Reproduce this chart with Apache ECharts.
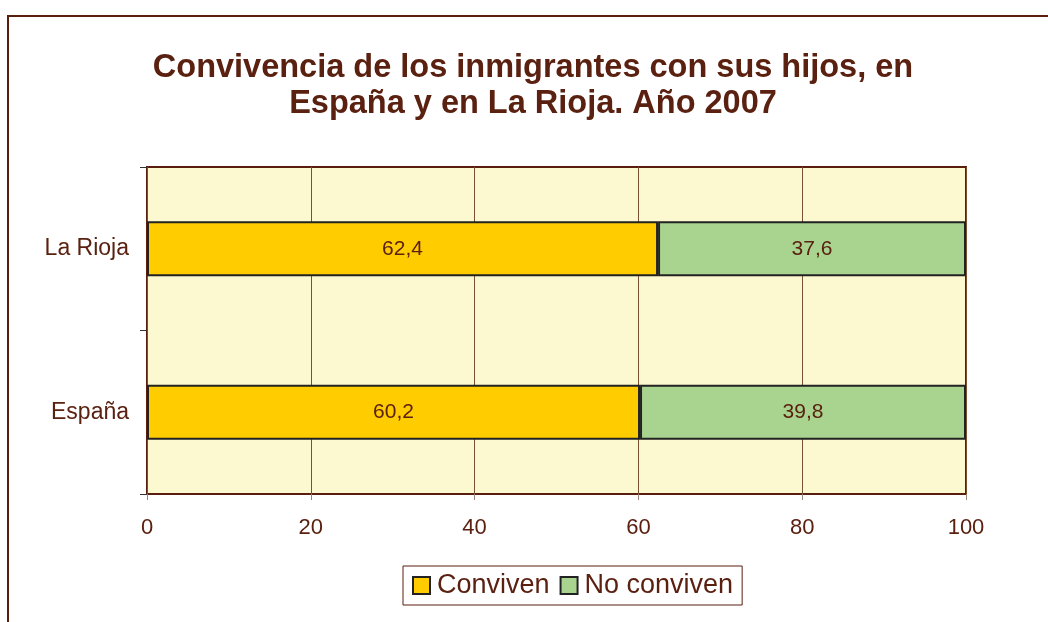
<!DOCTYPE html>
<html>
<head>
<meta charset="utf-8">
<script src="https://cdn.jsdelivr.net/npm/echarts@6/dist/echarts.min.js"></script>
<style>
  html, body { margin: 0; padding: 0; background: #fff; overflow: hidden; }
  #frame {
    position: absolute; left: 7px; top: 15px; width: 1200px; height: 800px;
    border-left: 2px solid #5a1e0e; border-top: 2px solid #5a1e0e;
  }
  #chart { position: absolute; left: 0; top: 0; width: 1048px; height: 622px; }
</style>
</head>
<body>
<div id="frame"></div>
<div id="chart"></div>
<script>
const categories = ['España', 'La Rioja']
const conviven = [60.2, 62.4]
const noConviven = [39.8, 37.6]
const xTicks = [0, 20, 40, 60, 80, 100]

const brown = '#5a1e0e'
const textColor = '#5a2010'

const chart = echarts.init(document.getElementById('chart'))

const fmt = p => String(p.value).replace('.', ',')

chart.setOption({
  animation: false,
  title: {
    text: 'Convivencia de los inmigrantes con sus hijos, en\nEspaña y en La Rioja. Año 2007',
    left: 528,
    top: 45,
    textAlign: 'center',
    textStyle: {
      fontFamily: 'Liberation Sans',
      fontSize: 32.5,
      fontWeight: 'bold',
      color: textColor,
      lineHeight: 36
    }
  },
  legend: {
    left: 403,
    top: 566,
    padding: [6, 9, 6, 9],
    itemGap: 10,
    itemWidth: 17,
    itemHeight: 17,
    itemStyle: { borderColor: '#222', borderWidth: 2 },
    borderColor: brown,
    borderWidth: 1,
    backgroundColor: '#fff',
    textStyle: { fontFamily: 'Liberation Sans', fontSize: 27, color: textColor, padding: [0, 0, 0, 2] },
    data: [
      { name: 'Conviven', icon: 'rect' },
      { name: 'No conviven', icon: 'rect' }
    ]
  },
  grid: {
    left: 147, right: 82, top: 167, bottom: 128,
    show: true,
    backgroundColor: '#fcf8cf',
    borderColor: brown,
    borderWidth: 2
  },
  xAxis: {
    type: 'value',
    min: 0,
    max: 100,
    interval: 20,
    axisLine: { show: false },
    axisTick: { show: true, length: 6, lineStyle: { color: '#9a8478', width: 1 } },
    splitLine: { show: true, lineStyle: { color: '#7a5030', width: 1 } },
    axisLabel: {
      fontFamily: 'Liberation Sans', fontSize: 22, color: textColor, margin: 23,
      formatter: v => xTicks.includes(v) ? String(v) : ''
    }
  },
  yAxis: {
    type: 'category',
    data: categories,
    axisLine: { show: false },
    axisTick: { show: true, length: 7, lineStyle: { color: '#333', width: 1 } },
    axisLabel: { fontFamily: 'Liberation Sans', fontSize: 23, color: textColor, margin: 18 }
  },
  series: [
    {
      name: 'Conviven',
      type: 'bar',
      stack: 'total',
      data: conviven,
      barWidth: 55,
      itemStyle: { color: '#ffcc00', borderColor: '#222', borderWidth: 2 },
      label: { show: true, position: 'inside', formatter: fmt, fontFamily: 'Liberation Sans', fontSize: 21, color: textColor }
    },
    {
      name: 'No conviven',
      type: 'bar',
      stack: 'total',
      data: noConviven,
      barWidth: 55,
      itemStyle: { color: '#a9d48f', borderColor: '#222', borderWidth: 2 },
      label: { show: true, position: 'inside', formatter: fmt, fontFamily: 'Liberation Sans', fontSize: 21, color: textColor }
    }
  ]
})
</script>
</body>
</html>
